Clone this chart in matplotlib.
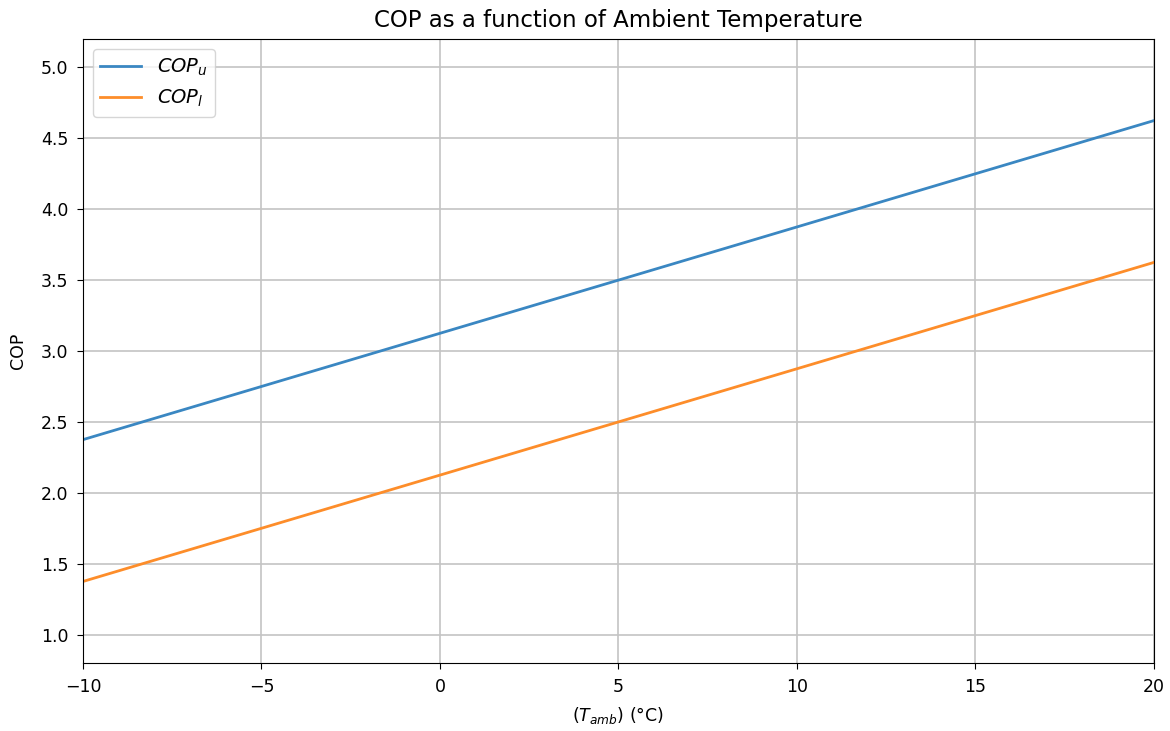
import matplotlib.pyplot as plt

# Ambient temperature and COP values
t_amb = [-10, -5, 0, 5, 10, 15, 20]
cop_u = [2.375, 2.75, 3.125, 3.5, 3.875, 4.25, 4.625]
cop_l = [1.375, 1.75, 2.125, 2.5, 2.875, 3.25, 3.625]

plt.rcParams['font.size'] = 12.5
plt.rcParams['grid.linewidth'] = 1.2
plt.rcParams['grid.color'] = '#c4c4c4'

fig = plt.figure(figsize=(11.7, 7.31), dpi=100)
ax = fig.add_axes([0.0709, 0.093, 0.9154, 0.8536])

ax.plot(t_amb, cop_u, linewidth=2.0, color='#3a87c2', label='$COP_u$')
ax.plot(t_amb, cop_l, linewidth=2.0, color='#fd8d2a', label='$COP_l$')

ax.set_title("COP as a function of Ambient Temperature", fontsize=16.5, pad=9)
ax.set_xlabel("($T_{amb}$) (°C)", labelpad=7)
ax.set_ylabel("COP", labelpad=10)
ax.tick_params(length=4.5, pad=6)
ax.set_xlim(-10, 20)
ax.set_ylim(0.8, 5.2)
ax.grid(True)
ax.legend(loc='upper left', fontsize=14, handlelength=2.1)

fig.savefig('out.png')
